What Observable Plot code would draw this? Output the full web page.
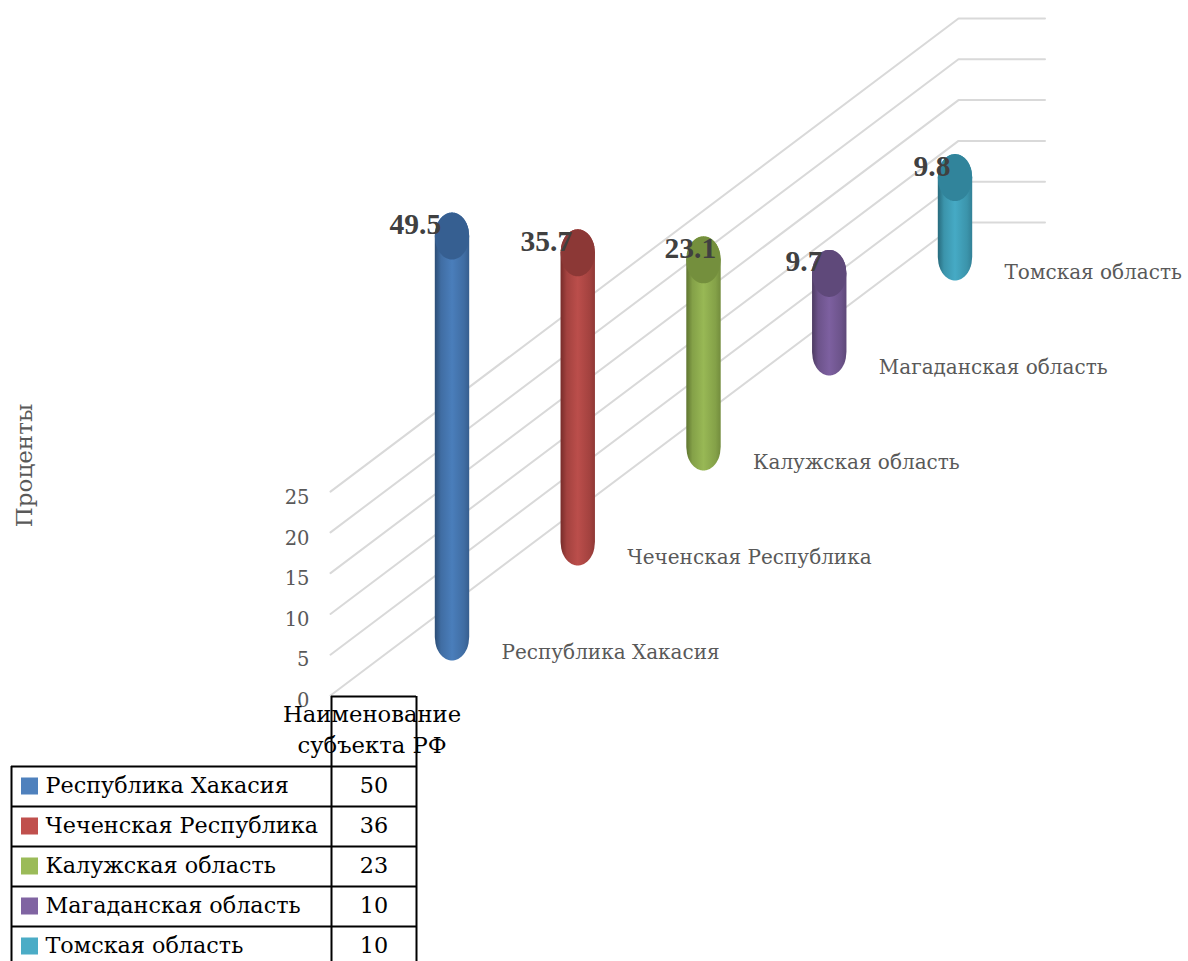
<!DOCTYPE html>
<html lang="ru">
<head>
<meta charset="utf-8">
<style>html,body{margin:0;padding:0;background:#fff;overflow:hidden}</style>
<script src="https://cdn.jsdelivr.net/npm/d3@7"></script>
<script src="https://cdn.jsdelivr.net/npm/@observablehq/plot@0.6"></script>
</head>
<body>
<div id="chart"></div>
<script>
// ---- data ----
const regions = ["Республика Хакасия","Чеченская Республика","Калужская область","Магаданская область","Томская область"];
const percents = [49.5,35.7,23.1,9.7,9.8];
const tableValues = [50,36,23,10,10];
const axisTicks = [0,5,10,15,20,25];
const axisTitle = "Проценты";
const tableHeader = "Наименование\nсубъекта РФ";

// ---- styles ----
const swatch = ["#4f81bd","#c0504d","#9bbb59","#8064a2","#4bacc6"];
const bodyMid = ["#4a7ebb","#bb4e4b","#98b855","#7d60a0","#46aac5"];
const bodyEdge = ["#2c4d75","#772c2a","#5f7530","#4d3b62","#276a7c"];
const capFill = ["#365f91","#8c3836","#748f3d","#5f497a","#31849b"];
const serif = "'DejaVu Serif', serif";
const boldSerif = "'Liberation Serif', serif";

// ---- layout, all in scale units: x = position along the category axis, y = percent ----
const pxPerX = 125.75, pxPerY = 8.1;
const xPx = p => (p - 452) / pxPerX;          // page pixel to x units
const yPx = p => (695 - p) / pxPerY;          // page pixel to y units
const rx = 17.2 / pxPerX, ry = 23.5 / pxPerY;
const floorStart = 7.16, floorStep = 11.73;   // cylinder base in y units, per category
const wallStart = xPx(330), wallBend = xPx(958), wallEnd = xPx(1044.5), wallRise = 58.4, wallGain = 1.007;
const labelDx = [xPx(389), xPx(520), xPx(664), xPx(785), xPx(913)];

const rows = regions.map((name,i) => ({
  name, i, value: percents[i], table: tableValues[i],
  base: floorStart + floorStep*i,
  top: floorStart + floorStep*i + percents[i]
}));

const ts = d3.range(-1,1.0001,0.04);
const body = rows.flatMap(r => ts.map(t => ({
  i:r.i, x:r.i + t*rx,
  y1:r.base - ry*Math.sqrt(Math.max(0,1-t*t)),
  y2:r.top + ry*Math.sqrt(Math.max(0,1-t*t))
})));
const cap = rows.flatMap(r => ts.map(t => ({
  i:r.i, x:r.i + t*rx,
  y1:r.top - ry*Math.sqrt(Math.max(0,1-t*t)),
  y2:r.top + ry*Math.sqrt(Math.max(0,1-t*t))
})));
const wall = axisTicks.flatMap(v => [
  {v, x:wallStart, y:v*wallGain},
  {v, x:wallBend, y:v*wallGain+wallRise},
  {v, x:wallEnd, y:v*wallGain+wallRise}
]);

// table geometry
const tL = xPx(11), tM = xPx(331), tR = xPx(416);
const tableTop = yPx(696), headBottom = yPx(766), rowStep = 40/pxPerY;
const rowLine = d3.range(0,6).map(k => headBottom - k*rowStep);
const rowMid = k => headBottom - (k+0.5)*rowStep;
const tableBottom = headBottom - 5*rowStep;

const gradients = () => {
  const ns = "http://www.w3.org/2000/svg";
  const defs = document.createElementNS(ns,"defs");
  regions.forEach((_,i) => {
    const g = document.createElementNS(ns,"linearGradient");
    g.setAttribute("id","g"+i);
    const mix = d3.interpolateRgb(bodyEdge[i],bodyMid[i]);
    [[0,mix(0)],[0.18,mix(0.65)],[0.5,mix(1)],[0.85,mix(0.65)],[1,mix(0.35)]].forEach(([o,c]) => {
      const s = document.createElementNS(ns,"stop");
      s.setAttribute("offset",o); s.setAttribute("stop-color",c);
      g.appendChild(s);
    });
    defs.appendChild(g);
  });
  return defs;
};

const chart = Plot.plot({
  width:1188, height:961, margin:0,
  style:{background:"#fff", fontFamily:serif, overflow:"visible"},
  x:{domain:[0,4], range:[452,452+4*pxPerX], axis:null},
  y:{domain:[0,25], range:[695,695-25*pxPerY], axis:null},
  marks:[
    gradients,
    Plot.line(wall,{x:"x",y:"y",z:"v",stroke:"#d9d9d9",strokeWidth:2}),
    Plot.axisY(axisTicks,{anchor:"left",x:xPx(309),tickSize:0,tickPadding:0,label:null,
      fontSize:19.5,fill:"#595959",dy:5}),
    Plot.text([axisTitle],{x:xPx(24),y:yPx(465),text:d=>d,rotate:-90,fontSize:23,fill:"#595959"}),
    ...rows.map(r => Plot.areaY(body.filter(d=>d.i===r.i),{x:"x",y1:"y1",y2:"y2",fill:`url(#g${r.i})`})),
    ...rows.map(r => Plot.areaY(cap.filter(d=>d.i===r.i),{x:"x",y1:"y1",y2:"y2",fill:capFill[r.i]})),
    Plot.text(rows,{x:d=>d.i+49/pxPerX,y:d=>d.base-15/pxPerY,text:"name",textAnchor:"start",
      fontSize:20,fill:"#595959"}),
    Plot.text(rows,{x:d=>labelDx[d.i],y:d=>d.top+12/pxPerY,text:d=>String(d.value),textAnchor:"start",
      fontSize:29.5,fontWeight:"bold",fontFamily:boldSerif,fill:"#404040"}),
    // data table
    Plot.ruleY([tableTop],{x1:tM,x2:tR,stroke:"#000",strokeWidth:2}),
    Plot.ruleY(rowLine,{x1:tL,x2:tR,stroke:"#000",strokeWidth:2}),
    Plot.ruleX([tL],{y1:headBottom,y2:tableBottom,stroke:"#000",strokeWidth:2}),
    Plot.ruleX([tM,tR],{y1:tableTop,y2:tableBottom,stroke:"#000",strokeWidth:2}),
    Plot.text([tableHeader],{x:xPx(371.5),y:yPx(727),text:d=>d,fontSize:22.7,lineHeight:1.36,fill:"#000"}),
    Plot.rect(rows,{x1:xPx(21),x2:xPx(38),y1:d=>rowMid(d.i)-8.5/pxPerY,y2:d=>rowMid(d.i)+8.5/pxPerY,fill:d=>swatch[d.i]}),
    Plot.text(rows,{x:xPx(45),y:d=>rowMid(d.i),dy:-1,text:"name",textAnchor:"start",fontSize:22.3,fill:"#000"}),
    Plot.text(rows,{x:(tM+tR)/2,y:d=>rowMid(d.i),dy:-1,text:d=>String(d.table),fontSize:22.3,fill:"#000"})
  ]
});
document.getElementById("chart").appendChild(chart);
</script>
</body>
</html>
